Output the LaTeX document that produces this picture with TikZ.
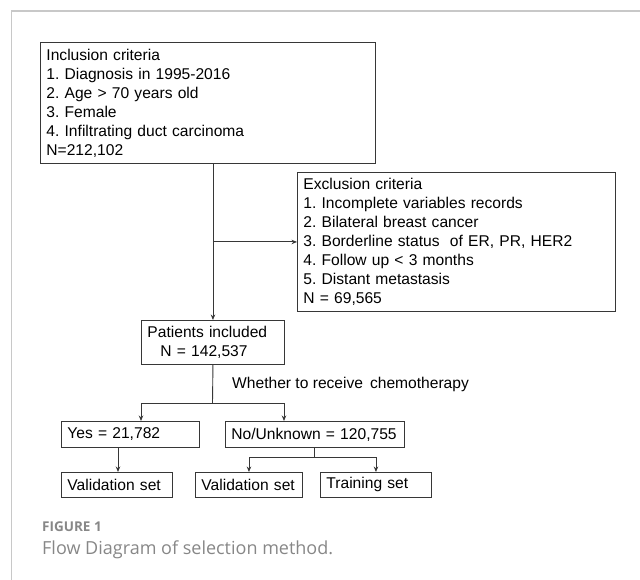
\documentclass[tikz,border=0pt]{standalone}
\usepackage{fontspec}
\setmainfont{Liberation Sans}
\newfontfamily\capfont{Open Sans}
\usetikzlibrary{arrows.meta}
\definecolor{lc}{RGB}{55,55,55}
\definecolor{framec}{RGB}{200,200,200}
\definecolor{capgray}{RGB}{135,135,135}
\frenchspacing
\begin{document}
\begin{tikzpicture}[x=1pt,y=-1pt,
  box/.style={draw=lc, line width=0.9pt, anchor=north west, align=left,
    inner xsep=6pt, inner ysep=0pt, font=\fontsize{15.6}{19}\selectfont},
  conn/.style={draw=lc, line width=0.9pt},
  arr/.style={conn, -{Stealth[length=5.5pt,width=4.5pt]}},
  lbl/.style={anchor=west, inner sep=0pt, font=\fontsize{15.6}{19}\selectfont}]
\useasboundingbox (0,0) rectangle (640,580);
% frame
\draw[framec, line width=1.2pt] (11.5,580) -- (11.5,11) -- (640,11);
% boxes
\node[box, text width=323pt, minimum height=121pt] (incl) at (40,42)
  {Inclusion criteria\\1. Diagnosis in 1995-2016\\2. Age > 70 years old\\3. Female\\4. Infiltrating duct carcinoma\\N=212,102};
\node[box, text width=306pt, minimum height=139pt] (excl) at (297,172)
  {Exclusion criteria\\1. Incomplete variables records\\2. Bilateral breast cancer\\3. Borderline status\ \ of ER, PR, HER2\\4. Follow up < 3 months\\5. Distant metastasis\\N = 69,565};
\node[box, text width=131pt, minimum height=44pt] (pat) at (141,320)
  {Patients included\\\hspace*{13pt}N = 142,537};
\node[lbl] (q) at (232,384) {Whether to receive\ \,chemotherapy};
\node[box, text width=126pt, minimum height=26pt] (yes) at (61,421) {Yes = 21,782};
\node[box, text width=167pt, minimum height=26pt] (no) at (225,421) {No/Unknown = 120,755};
\node[box, text width=99pt, minimum height=25pt] (vs1) at (61,472) {Validation set};
\node[box, text width=95pt, minimum height=25pt] (vs2) at (195,472) {Validation set};
\node[box, text width=99pt, minimum height=25pt] (ts) at (320,472) {Training set};
% connectors
\draw[arr] (pat.north |- incl.south) -- (pat.north);
\draw[arr] (pat.north |- excl.west) -- (excl.west);
\coordinate (split) at (212.5,403);
\coordinate (ya) at (141,403);
\coordinate (na) at (284,403);
\draw[conn] (pat.south) -- (split);
\draw[conn] (ya) -- (na);
\draw[arr] (ya) -- (ya |- yes.north);
\draw[arr] (na) -- (na |- no.north);
\coordinate (yd) at (118,447);
\draw[arr] (yd |- yes.south) -- (yd |- vs1.north);
\coordinate (nj) at (314,457);
\draw[conn] (nj |- no.south) -- (nj);
\draw[arr] (nj) -| (vs2.north);
\draw[arr] (nj) -| (ts.north);
% caption
\node[anchor=west, inner sep=0pt, text=capgray, font=\capfont\bfseries\fontsize{13.5}{16}\selectfont] (figlbl) at (42,527) {FIGURE 1};
\node[anchor=west, inner sep=0pt, text=capgray, font=\capfont\fontsize{18}{22}\selectfont] (cap) at (42,550) {Flow Diagram of selection method.};
\end{tikzpicture}
\end{document}
